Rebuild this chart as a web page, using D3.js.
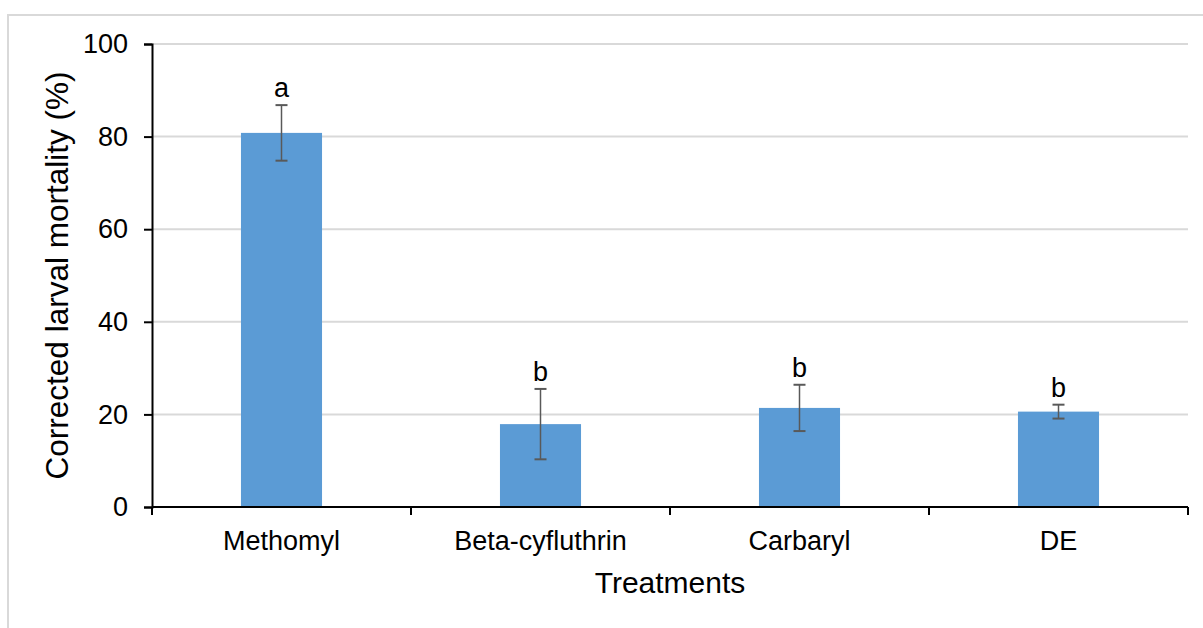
<!DOCTYPE html>
<html>
<head>
<meta charset="utf-8">
<script src="https://cdn.jsdelivr.net/npm/d3@7"></script>
<style>
  html, body { margin: 0; padding: 0; background: #fff; }
  svg { display: block; }
  text { font-family: "Liberation Sans", Arial, sans-serif; fill: #000; }
</style>
</head>
<body>
<svg id="chart" width="1203" height="628"></svg>
<script>
// Treatment results: mean corrected larval mortality with standard error
const treatments = ["Methomyl", "Beta-cyfluthrin", "Carbaryl", "DE"];
const mortality = [80.8, 17.9, 21.4, 20.6];
const stdError = [6.0, 7.6, 5.0, 1.5];
const groupLetters = ["a", "b", "b", "b"];
const yTicks = [0, 20, 40, 60, 80, 100];

const svg = d3.select("#chart");
const W = 1203, H = 628;
const margin = { left: 152, right: 15, top: 44, bottom: 121 };
const plotW = W - margin.left - margin.right;
const plotH = H - margin.top - margin.bottom;

// Outer chart frame
svg.append("path")
  .attr("d", `M8,${H + 5} L8,15 L${W + 5},15`)
  .attr("fill", "none")
  .attr("stroke", "#d9d9d9")
  .attr("stroke-width", 2);

const g = svg.append("g").attr("transform", `translate(${margin.left},${margin.top})`);

const x = d3.scaleBand()
  .domain(treatments)
  .range([0, plotW])
  .paddingInner(0.687)
  .paddingOuter(0.687 / 2);

const y = d3.scaleLinear().domain([0, 100]).range([plotH, 0]);

// Horizontal gridlines
g.append("g")
  .selectAll("line")
  .data(yTicks.filter(d => d > 0))
  .join("line")
  .attr("x1", 0)
  .attr("x2", plotW)
  .attr("y1", d => y(d))
  .attr("y2", d => y(d))
  .attr("stroke", "#d9d9d9")
  .attr("stroke-width", 2);

// Bars
g.append("g")
  .selectAll("rect")
  .data(treatments)
  .join("rect")
  .attr("x", d => x(d))
  .attr("width", x.bandwidth())
  .attr("y", (d, i) => y(mortality[i]))
  .attr("height", (d, i) => y(0) - y(mortality[i]))
  .attr("fill", "#5b9bd5");

// Error bars
const errG = g.append("g").attr("stroke", "#595959");
treatments.forEach((t, i) => {
  const cx = x(t) + x.bandwidth() / 2;
  const hi = y(mortality[i] + stdError[i]);
  const lo = y(mortality[i] - stdError[i]);
  errG.append("line")
    .attr("x1", cx).attr("x2", cx)
    .attr("y1", hi).attr("y2", lo)
    .attr("stroke-width", 1.5);
  [hi, lo].forEach(yy => {
    errG.append("line")
      .attr("x1", cx - 6).attr("x2", cx + 6)
      .attr("y1", yy).attr("y2", yy)
      .attr("stroke-width", 2);
  });
});

// Significance letters above the error bars
g.append("g")
  .selectAll("text")
  .data(treatments)
  .join("text")
  .attr("x", d => x(d) + x.bandwidth() / 2)
  .attr("y", (d, i) => y(mortality[i] + stdError[i]) - 8)
  .attr("text-anchor", "middle")
  .attr("font-size", 27)
  .text((d, i) => groupLetters[i]);

// Y axis
const yAxis = g.append("g")
  .call(d3.axisLeft(y).tickValues(yTicks).tickSize(8).tickPadding(16).tickFormat(d3.format("d")));
yAxis.select(".domain").attr("stroke", "#000").attr("stroke-width", 2);
yAxis.selectAll(".tick line").attr("stroke", "#000").attr("stroke-width", 2);
yAxis.selectAll(".tick text")
  .attr("font-size", 27)
  .attr("font-family", "Liberation Sans, Arial, sans-serif")
  .attr("fill", "#000");

// X axis: tick marks at category boundaries
const xAxis = g.append("g").attr("transform", `translate(0,${plotH})`);
xAxis.append("line")
  .attr("x1", 0).attr("x2", plotW)
  .attr("stroke", "#000").attr("stroke-width", 2);
const boundaries = [0].concat(treatments.map(t => x(t) + x.bandwidth() / 2 + x.step() / 2));
xAxis.selectAll(".bound")
  .data(boundaries)
  .join("line")
  .attr("class", "bound")
  .attr("x1", d => d).attr("x2", d => d)
  .attr("y1", 0).attr("y2", 8)
  .attr("stroke", "#000").attr("stroke-width", 2);
xAxis.selectAll(".cat")
  .data(treatments)
  .join("text")
  .attr("class", "cat")
  .attr("x", d => x(d) + x.bandwidth() / 2)
  .attr("y", 43)
  .attr("text-anchor", "middle")
  .attr("font-size", 27)
  .text(d => d);

// Axis titles
svg.append("text")
  .attr("x", margin.left + plotW / 2)
  .attr("y", 593)
  .attr("text-anchor", "middle")
  .attr("font-size", 30)
  .text("Treatments");

svg.append("text")
  .attr("transform", `translate(68,${margin.top + plotH / 2}) rotate(-90)`)
  .attr("text-anchor", "middle")
  .attr("font-size", 31.5)
  .text("Corrected larval mortality (%)");
</script>
</body>
</html>
